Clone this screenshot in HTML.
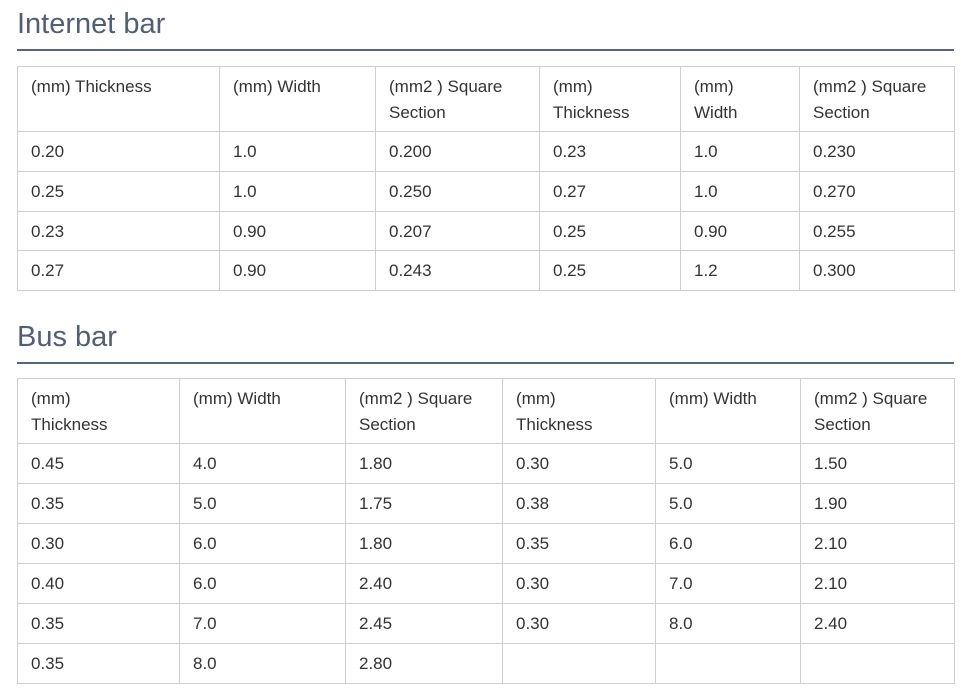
<!DOCTYPE html>
<html><head><meta charset="utf-8"><style>
body{margin:0;background:#fff;font-family:"Liberation Sans",sans-serif;color:#333;width:968px;height:700px;overflow:hidden;position:relative}
h2{position:absolute;left:17px;margin:0;font-weight:normal;font-size:29px;color:#4f5f75;line-height:1}
.rule{position:absolute;left:17px;width:937px;height:2px;background:#56667a}
table{position:absolute;left:17px;border-collapse:collapse;table-layout:fixed;width:937px;font-size:17px}
td{border:1px solid #cfcfcf;padding:0 0 0 13px;vertical-align:top;line-height:26px}
tr.h td{height:65px;padding-top:7px;box-sizing:border-box}
tr.r td{height:40px;padding-top:7px;box-sizing:border-box}
.t1 tr.r td{height:39.75px}
</style></head><body>
<h2 style="top:10px">Internet bar</h2>
<div class="rule" style="top:49px"></div>
<table class="t1" style="top:66px">
<colgroup><col style="width:202px"><col style="width:156px"><col style="width:164px"><col style="width:141px"><col style="width:119px"><col style="width:155px"></colgroup>
<tr class="h"><td>(mm) Thickness</td><td>(mm) Width</td><td>(mm2 ) Square Section</td><td>(mm)<br>Thickness</td><td>(mm)<br>Width</td><td>(mm2 ) Square Section</td></tr>
<tr class="r"><td>0.20</td><td>1.0</td><td>0.200</td><td>0.23</td><td>1.0</td><td>0.230</td></tr>
<tr class="r"><td>0.25</td><td>1.0</td><td>0.250</td><td>0.27</td><td>1.0</td><td>0.270</td></tr>
<tr class="r"><td>0.23</td><td>0.90</td><td>0.207</td><td>0.25</td><td>0.90</td><td>0.255</td></tr>
<tr class="r"><td>0.27</td><td>0.90</td><td>0.243</td><td>0.25</td><td>1.2</td><td>0.300</td></tr>
</table>
<h2 style="top:323px">Bus bar</h2>
<div class="rule" style="top:362px"></div>
<table style="top:378px">
<colgroup><col style="width:162px"><col style="width:166px"><col style="width:157px"><col style="width:153px"><col style="width:145px"><col style="width:154px"></colgroup>
<tr class="h"><td>(mm)<br>Thickness</td><td>(mm) Width</td><td>(mm2 ) Square Section</td><td>(mm)<br>Thickness</td><td>(mm) Width</td><td>(mm2 ) Square Section</td></tr>
<tr class="r"><td>0.45</td><td>4.0</td><td>1.80</td><td>0.30</td><td>5.0</td><td>1.50</td></tr>
<tr class="r"><td>0.35</td><td>5.0</td><td>1.75</td><td>0.38</td><td>5.0</td><td>1.90</td></tr>
<tr class="r"><td>0.30</td><td>6.0</td><td>1.80</td><td>0.35</td><td>6.0</td><td>2.10</td></tr>
<tr class="r"><td>0.40</td><td>6.0</td><td>2.40</td><td>0.30</td><td>7.0</td><td>2.10</td></tr>
<tr class="r"><td>0.35</td><td>7.0</td><td>2.45</td><td>0.30</td><td>8.0</td><td>2.40</td></tr>
<tr class="r"><td>0.35</td><td>8.0</td><td>2.80</td><td></td><td></td><td></td></tr>
</table>
</body></html>
